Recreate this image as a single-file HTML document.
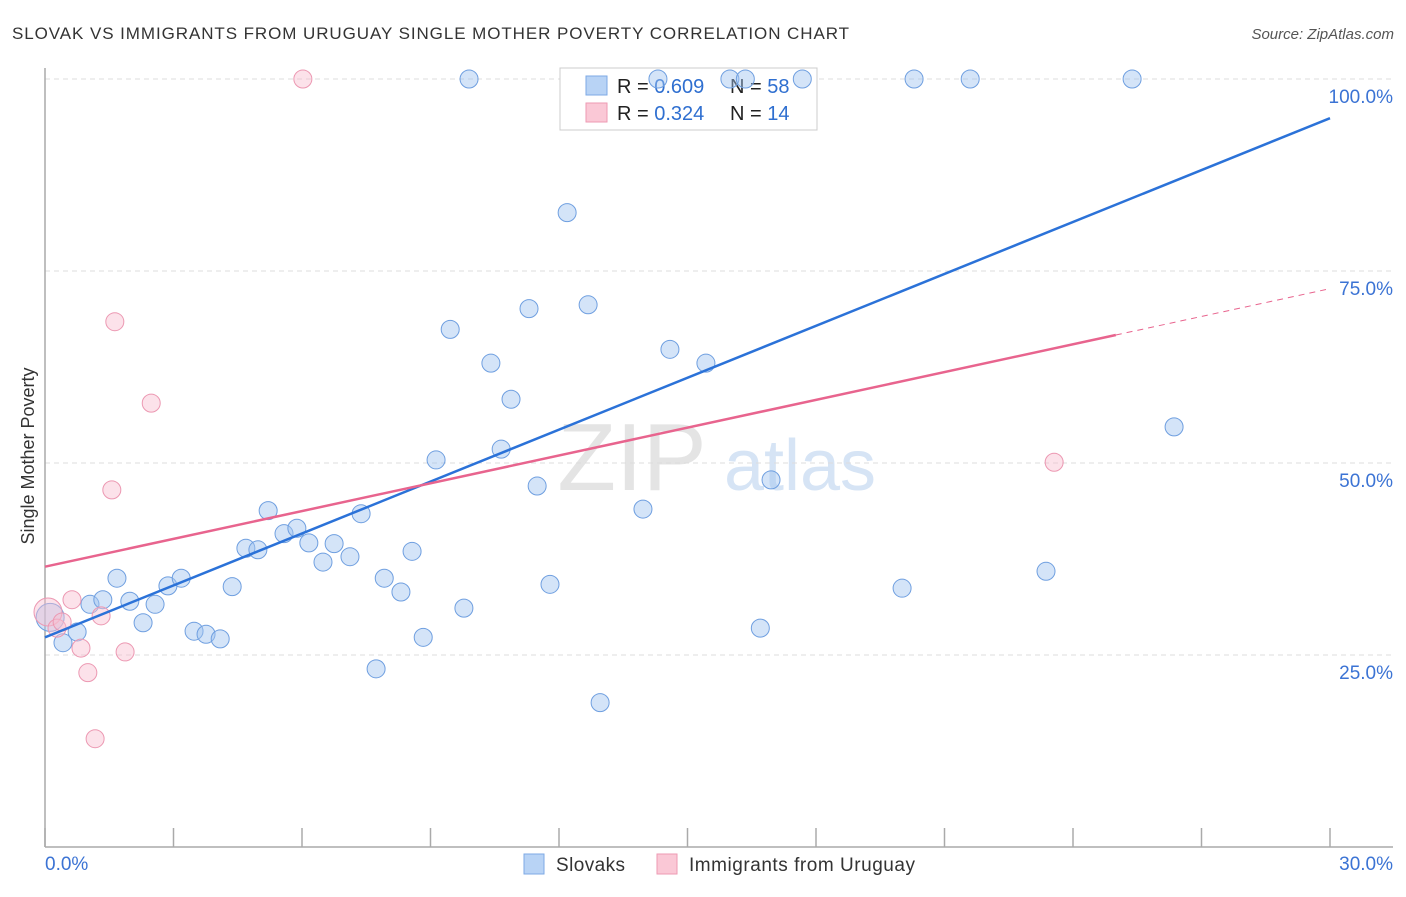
<!DOCTYPE html>
<html><head><meta charset="utf-8"><style>
body{margin:0;background:#fff;font-family:"Liberation Sans",sans-serif}
svg text{font-family:"Liberation Sans",sans-serif}
</style></head><body>
<svg id="c" width="1406" height="892">
<text x="12" y="39" font-size="17" fill="#333" textLength="837">SLOVAK VS IMMIGRANTS FROM URUGUAY SINGLE MOTHER POVERTY CORRELATION CHART</text>
<text x="1394" y="39" font-size="15" fill="#555" font-style="italic" text-anchor="end">Source: ZipAtlas.com</text>
<text transform="translate(34,456) rotate(-90)" font-size="18" fill="#333" text-anchor="middle">Single Mother Poverty</text>
<g><text x="632" y="490" font-size="96" fill="#e4e4e4" font-family="Liberation Serif" text-anchor="middle">ZIP</text><text x="800" y="490" font-size="72" fill="#d6e4f5" text-anchor="middle">atlas</text></g>
<g id="grid"></g><g id="axes"></g>
<g>
<rect x="560" y="68" width="257" height="62" fill="#fff" stroke="#ccc"/>
<rect x="586" y="76" width="21" height="19" fill="#b8d3f5" stroke="#7ea9e5"/>
<rect x="586" y="103" width="21" height="19" fill="#fac8d6" stroke="#ee9ab3"/>
<text x="617" y="93" font-size="20" fill="#222">R = <tspan fill="#2f6fd0">0.609</tspan></text>
<text x="730" y="93" font-size="20" fill="#222">N = <tspan fill="#2f6fd0">58</tspan></text>
<text x="617" y="120" font-size="20" fill="#222">R = <tspan fill="#2f6fd0"> 0.324</tspan></text>
<text x="730" y="120" font-size="20" fill="#222">N = <tspan fill="#2f6fd0"> 14</tspan></text>
</g>
<g id="pts"></g><g id="lines"></g>
<g>
<rect x="524" y="854" width="20" height="20" fill="#b8d3f5" stroke="#7ea9e5"/>
<text x="556" y="871" font-size="19" fill="#333" textLength="69">Slovaks</text>
<rect x="657" y="854" width="20" height="20" fill="#fac8d6" stroke="#ee9ab3"/>
<text x="689" y="871" font-size="19" fill="#333" textLength="226">Immigrants from Uruguay</text>
</g>
</svg>
<script>
const blueX=[0.12,0.42,0.75,1.05,1.35,1.68,1.98,2.29,2.57,2.87,3.18,3.48,3.76,4.09,4.37,4.69,4.97,5.21,5.58,5.88,6.16,6.49,6.75,7.12,7.38,7.73,7.92,8.31,8.57,8.83,9.13,9.46,9.78,9.90,10.41,10.65,10.88,11.30,11.49,11.79,12.19,12.68,12.96,13.96,14.31,14.59,15.43,15.99,16.35,16.70,16.95,17.68,20.01,20.29,21.60,23.37,25.38,26.36];
const blueY=[29.9,26.6,28.0,31.6,32.2,35.0,32.0,29.2,31.6,34.0,35.0,28.1,27.7,27.1,33.9,38.9,38.7,43.8,40.8,41.5,39.6,37.1,39.5,37.8,43.4,23.2,35.0,33.2,38.5,27.3,50.4,67.4,31.1,100,63.0,51.8,58.3,70.1,47.0,34.2,82.6,70.6,18.8,44.0,100,64.8,63.0,100,100,28.5,47.8,100,33.7,100,100,35.9,100,54.7];
const pinkX=[0.07,0.28,0.40,0.63,0.84,1.00,1.17,1.31,1.56,1.63,1.87,2.48,6.02,23.56];
const pinkY=[30.6,28.5,29.3,32.2,25.9,22.7,14.1,30.1,46.5,68.4,25.4,57.8,100,50.1];
const blueTrend=[27.3,94.9];
const pinkTrend=[36.5,72.7];
const pinkSolidEnd=25.0;
const yTicks=[25,50,75,100];
const xTickVals=[0,3,6,9,12,15,18,21,24,27,30];
const NS="http://www.w3.org/2000/svg";
const X=v=>45+v/30*1285, Y=v=>847-v*7.68;
function mk(t,a,p){const e=document.createElementNS(NS,t);for(const k in a)e.setAttribute(k,a[k]);document.getElementById(p).appendChild(e);return e;}
yTicks.forEach(t=>{
 const g=mk('line',{x1:45,x2:1393,y1:Y(t),y2:Y(t),stroke:'#ddd','stroke-dasharray':'5,4'},'grid');
 
 
 const l=mk('text',{x:1393,y:Y(t)+24,'font-size':19,fill:'#3b73d4','text-anchor':'end'},'grid');
 l.textContent=t.toFixed(1)+'%';
 
 
});
mk('line',{x1:45,x2:45,y1:68,y2:847,stroke:'#aaa','stroke-width':1.5},'axes');
mk('line',{x1:45,x2:1393,y1:847,y2:847,stroke:'#aaa','stroke-width':1.5},'axes');
xTickVals.forEach(t=>{const e=mk('line',{x1:X(t),x2:X(t),y1:828,y2:847,stroke:'#aaa','stroke-width':1.5},'axes');
 
 });
const a=mk('text',{x:45,y:870,'font-size':19,fill:'#3b73d4'},'axes');a.textContent='0.0%';


const b=mk('text',{x:1393,y:870,'font-size':19,fill:'#3b73d4','text-anchor':'end'},'axes');b.textContent='30.0%';


blueX.forEach((x,i)=>{const c=mk('circle',{cx:X(x),cy:Y(blueY[i]),r:i==0?14:9,fill:'rgba(160,195,240,0.45)',stroke:'#6f9fe0','stroke-width':1},'pts');
 
 });
pinkX.forEach((x,i)=>{const c=mk('circle',{cx:X(x),cy:Y(pinkY[i]),r:i==0?14:9,fill:'rgba(248,190,208,0.45)',stroke:'#ec98b2','stroke-width':1},'pts');
 
 });
const bl=mk('line',{x1:X(0),y1:Y(blueTrend[0]),x2:X(30),y2:Y(blueTrend[1]),stroke:'#2b72d8','stroke-width':2.5},'lines');


const pf=x=>pinkTrend[0]+(pinkTrend[1]-pinkTrend[0])*x/30;
const pl=mk('line',{x1:X(0),y1:Y(pf(0)),x2:X(pinkSolidEnd),y2:Y(pf(pinkSolidEnd)),stroke:'#e8648e','stroke-width':2.5},'lines');


const pd=mk('line',{x1:X(pinkSolidEnd),y1:Y(pf(pinkSolidEnd)),x2:X(30),y2:Y(pf(30)),stroke:'#e8648e','stroke-width':1,'stroke-dasharray':'6,5'},'lines');


</script>
</body></html>
